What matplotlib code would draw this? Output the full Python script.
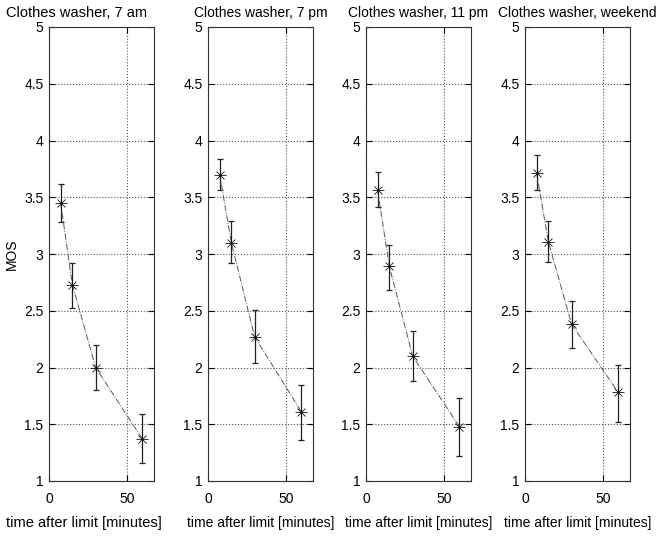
import matplotlib
matplotlib.use("Agg")
import matplotlib.pyplot as plt
from matplotlib.ticker import FormatStrFormatter

plt.rcParams['font.family'] = ['Liberation Sans', 'DejaVu Sans']

titles = ['Clothes washer, 7 am', 'Clothes washer, 7 pm',
          'Clothes washer, 11 pm', 'Clothes washer, weekend']
minutes = [7.5, 15, 30, 60]
mos = [
    [3.45, 2.73, 2.00, 1.37],
    [3.70, 3.10, 2.27, 1.61],
    [3.56, 2.89, 2.10, 1.48],
    [3.71, 3.11, 2.38, 1.78],
]
err_low = [
    [3.28, 2.52, 1.805, 1.155],
    [3.56, 2.92, 2.04, 1.36],
    [3.41, 2.68, 1.88, 1.22],
    [3.56, 2.93, 2.17, 1.52],
]
err_high = [
    [3.62, 2.92, 2.195, 1.593],
    [3.84, 3.29, 2.51, 1.85],
    [3.72, 3.08, 2.32, 1.73],
    [3.87, 3.29, 2.59, 2.025],
]
yticks = [1, 1.5, 2, 2.5, 3, 3.5, 4, 4.5, 5]
xticks = [0, 50]

W, H = 656, 541
fig = plt.figure(figsize=(W / 100, H / 100), dpi=100)
lefts = [49, 208, 366, 525]
fs = 10
for i in range(4):
    ax = fig.add_axes([lefts[i] / W, (H - 481) / H, 105 / W, 454 / H])
    lo = [m - l for m, l in zip(mos[i], err_low[i])]
    hi = [h - m for m, h in zip(mos[i], err_high[i])]
    ax.errorbar(minutes, mos[i], yerr=[lo, hi], fmt='none', ecolor='#222222',
                elinewidth=0.9, capsize=2, capthick=0.9)
    ax.plot(minutes, mos[i], linestyle='-.', color='#555555', linewidth=0.7)
    # matlab style asterisk = plus + x
    ax.plot(minutes, mos[i], linestyle='none', marker='+', color='#111111',
            markersize=8, markeredgewidth=0.6)
    ax.plot(minutes, mos[i], linestyle='none', marker='x', color='#111111',
            markersize=6, markeredgewidth=0.6)
    ax.set_xlim(0, 67.5)
    ax.set_ylim(1, 5)
    ax.set_xticks(xticks)
    ax.set_yticks(yticks)
    ax.yaxis.set_major_formatter(FormatStrFormatter('%g'))
    ax.grid(True, linestyle=':', color='#555555', linewidth=0.8)
    ax.tick_params(direction='in', top=True, right=True, labelsize=fs, length=4,
                   width=0.8)
    ax.tick_params(axis='x', pad=8)
    ax.tick_params(axis='y', pad=4)
    for s in ax.spines.values():
        s.set_linewidth(0.8)
        s.set_color('#333333')
    if i == 0:
        # first panel's title and xlabel sit further left in the original
        x0 = (6 - lefts[0]) / 105
        ax.set_title(titles[i], fontsize=10.5, pad=7, loc='left', x=x0)
        ax.set_xlabel('time after limit [minutes]', fontsize=10.5, labelpad=7,
                      loc='left')
        ax.xaxis.label.set_x(x0)
        ax.set_ylabel('MOS', fontsize=fs, labelpad=4)
    else:
        ax.set_title(titles[i], fontsize=fs, pad=7)
        ax.set_xlabel('time after limit [minutes]', fontsize=fs, labelpad=7)

fig.savefig('out.png', dpi=100)
